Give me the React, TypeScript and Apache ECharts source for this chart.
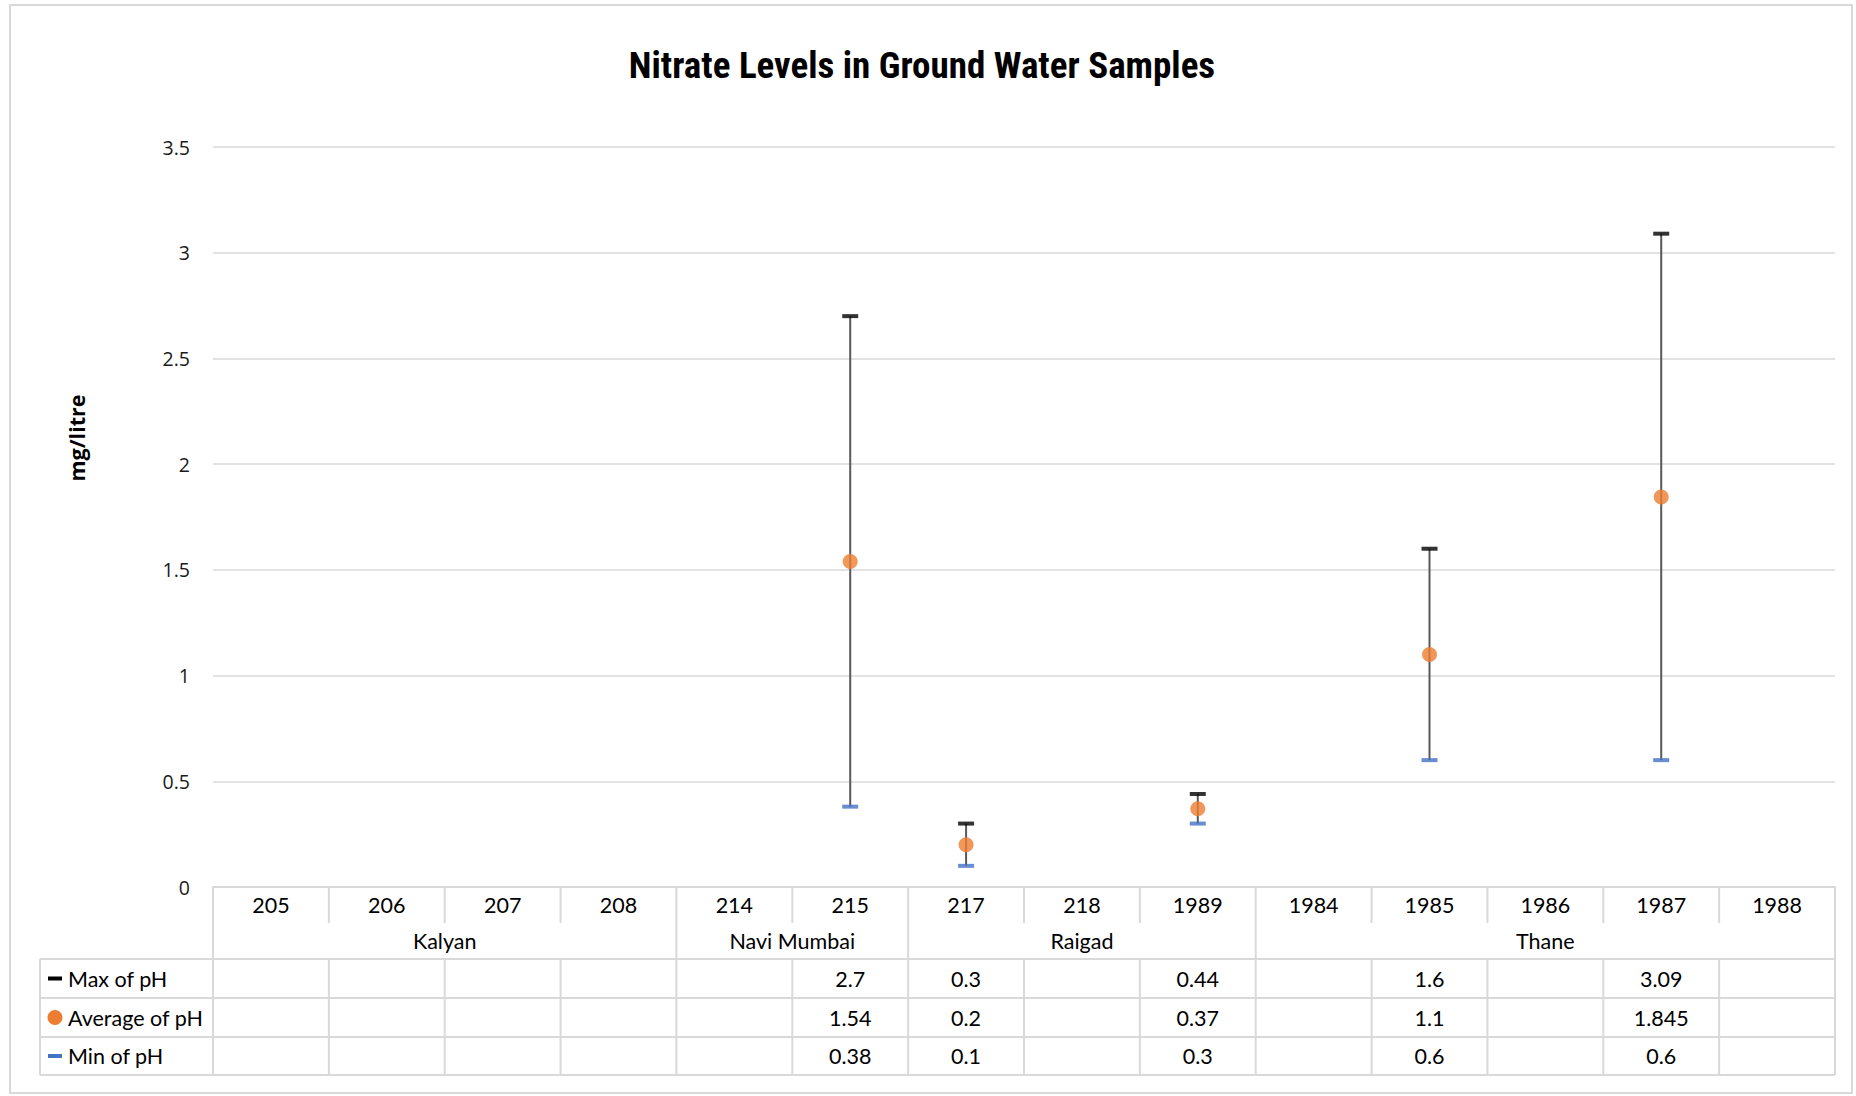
import React, { useEffect, useRef } from "react";
import * as echarts from "echarts";

const categories = ["205", "206", "207", "208", "214", "215", "217", "218", "1989", "1984", "1985", "1986", "1987", "1988"];
const groups = [
  { name: "Kalyan", span: 4 },
  { name: "Navi Mumbai", span: 2 },
  { name: "Raigad", span: 3 },
  { name: "Thane", span: 5 },
];
const maxPH: (number | null)[] = [null, null, null, null, null, 2.7, 0.3, null, 0.44, null, 1.6, null, 3.09, null];
const avgPH: (number | null)[] = [null, null, null, null, null, 1.54, 0.2, null, 0.37, null, 1.1, null, 1.845, null];
const minPH: (number | null)[] = [null, null, null, null, null, 0.38, 0.1, null, 0.3, null, 0.6, null, 0.6, null];
const yTicks = { min: 0, max: 3.5, interval: 0.5 };

const TITLE = "Nitrate Levels in Ground Water Samples";
const Y_NAME = "mg/litre";
const SERIES_NAMES = ["Max of pH", "Average of pH", "Min of pH"];

const W = 1856;
const H = 1096;
const GL = 213;
const GR = 1835;
const GT = 147;
const GB = 887;
const TABLE_LEFT = 40;
const ROW1 = 923;
const ROW2 = 959;
const ROWS = [959, 998, 1037, 1075];
const LINE = "#d9d9d9";
const TFONT = "Lato, 'Noto Sans', sans-serif";
const TSIZE = 21.5;

export default function App() {
  const ref = useRef<HTMLDivElement>(null);
  useEffect(() => {
    if (!ref.current) return;
    const chart = echarts.init(ref.current, undefined, { renderer: "svg" });
    const n = categories.length;
    const cw = (GR - GL) / n;
    const graphics: any[] = [];
    const hline = (x1: number, x2: number, y: number) =>
      graphics.push({ type: "line", shape: { x1, y1: y, x2, y2: y }, style: { stroke: LINE, lineWidth: 2 }, z: 10 });
    const vline = (x: number, y1: number, y2: number) =>
      graphics.push({ type: "line", shape: { x1: x, y1, x2: x, y2 }, style: { stroke: LINE, lineWidth: 2 }, z: 10 });

    // outer border
    graphics.push({ type: "rect", shape: { x: 10, y: 5, width: W - 14, height: H - 8 }, style: { fill: "none", stroke: LINE, lineWidth: 2 }, z: 0 });

    // table horizontal lines
    ROWS.forEach((y) => hline(TABLE_LEFT, GR, y));
    vline(TABLE_LEFT, ROW2, ROWS[3]);
    // group boundaries
    const groupBounds = new Set<number>([0, n]);
    let acc = 0;
    groups.forEach((g) => {
      acc += g.span;
      groupBounds.add(acc);
    });
    for (let i = 0; i <= n; i++) {
      const x = GL + i * cw;
      if (groupBounds.has(i)) vline(x, GB, ROWS[3]);
      else {
        vline(x, GB, ROW1);
        vline(x, ROW2, ROWS[3]);
      }
    }
    // group labels
    acc = 0;
    groups.forEach((g) => {
      const cx = GL + (acc + g.span / 2) * cw;
      acc += g.span;
      graphics.push({
        type: "text",
        x: cx,
        y: (ROW1 + ROW2) / 2,
        style: { text: g.name, fontSize: TSIZE, fontFamily: TFONT, fill: "#000", align: "center", verticalAlign: "middle" },
        z: 11,
      });
    });
    // series rows
    const rowData = [maxPH, avgPH, minPH];
    rowData.forEach((arr, r) => {
      const cy = (ROWS[r] + ROWS[r + 1]) / 2;
      arr.forEach((v, i) => {
        if (v == null) return;
        graphics.push({
          type: "text",
          x: GL + (i + 0.5) * cw,
          y: cy,
          style: { text: String(v), fontSize: TSIZE, fontFamily: TFONT, fill: "#000", align: "center", verticalAlign: "middle" },
          z: 11,
        });
      });
      // legend key
      if (r === 1) {
        graphics.push({ type: "circle", shape: { cx: 55, cy, r: 7.5 }, style: { fill: "#ed7d31" }, z: 11 });
      } else {
        graphics.push({
          type: "rect",
          shape: { x: 48, y: cy - 2, width: 14, height: 4 },
          style: { fill: r === 0 ? "#000000" : "#4472c4" },
          z: 11,
        });
      }
      graphics.push({
        type: "text",
        x: 68,
        y: cy,
        style: { text: SERIES_NAMES[r], fontSize: TSIZE, fontFamily: TFONT, fill: "#000", align: "left", verticalAlign: "middle" },
        z: 11,
      });
    });
    // title
    graphics.push({
      type: "text",
      x: 922,
      y: 65,
      style: {
        text: TITLE,
        fontSize: 37,
        fontWeight: "bold",
        fontFamily: "'Liberation Sans Narrow', 'Roboto Condensed', 'Liberation Sans', sans-serif",
        fill: "#000",
        align: "center",
        verticalAlign: "middle",
      },
      z: 11,
    });
    // y axis name
    graphics.push({
      type: "text",
      x: 76,
      y: 438,
      rotation: Math.PI / 2,
      style: {
        text: Y_NAME,
        fontSize: 21.5,
        fontWeight: "bold",
        fontFamily: "'Open Sans', 'Noto Sans', sans-serif",
        fill: "#000",
        align: "center",
        verticalAlign: "middle",
      },
      z: 11,
    });

    const toPts = (arr: (number | null)[]) =>
      arr.map((v, i) => (v == null ? null : [i, v])).filter((d) => d != null) as number[][];
    const rangeData = minPH
      .map((v, i) => (v == null || maxPH[i] == null ? null : [i, v, maxPH[i] as number]))
      .filter((d) => d != null) as number[][];

    chart.setOption({
      animation: false,
      backgroundColor: "#ffffff",
      grid: { left: GL, right: W - GR, top: GT, bottom: H - GB, containLabel: false },
      xAxis: {
        type: "category",
        data: categories,
        boundaryGap: true,
        axisLine: { show: true, lineStyle: { color: LINE, width: 2 } },
        axisTick: { show: false },
        axisLabel: { interval: 0, fontSize: TSIZE, fontFamily: TFONT, color: "#000", margin: 7 },
      },
      yAxis: {
        type: "value",
        min: yTicks.min,
        max: yTicks.max,
        interval: yTicks.interval,
        axisLine: { show: false },
        axisTick: { show: false },
        splitLine: { lineStyle: { color: LINE, width: 1.5 } },
        axisLabel: { fontSize: 19.5, fontFamily: "'Open Sans', 'Noto Sans', sans-serif", color: "#1a1a1a", margin: 23 },
      },
      series: [
        {
          type: "custom",
          name: "High-Low",
          data: rangeData,
          encode: { x: 0, y: [1, 2] },
          z: 1,
          renderItem: (params: any, api: any) => {
            const i = api.value(0);
            const lo = api.coord([i, api.value(1)]);
            const hi = api.coord([i, api.value(2)]);
            return {
              type: "line",
              shape: { x1: lo[0], y1: lo[1], x2: hi[0], y2: hi[1] },
              style: { stroke: "#595959", lineWidth: 2 },
            };
          },
        },
        {
          type: "scatter",
          name: SERIES_NAMES[0],
          data: toPts(maxPH),
          symbol: "rect",
          symbolSize: [16, 4],
          itemStyle: { color: "#000000" },
          z: 3,
        },
        {
          type: "scatter",
          name: SERIES_NAMES[1],
          data: toPts(avgPH),
          symbol: "circle",
          symbolSize: 15,
          itemStyle: { color: "#ed7d31" },
          z: 3,
        },
        {
          type: "scatter",
          name: SERIES_NAMES[2],
          data: toPts(minPH),
          symbol: "rect",
          symbolSize: [16, 4],
          itemStyle: { color: "#4472c4" },
          z: 3,
        },
      ],
      graphic: graphics,
    });
    return () => chart.dispose();
  }, []);
  return <div ref={ref} style={{ position: "fixed", left: 0, top: 0, width: W, height: H, background: "#fff" }} />;
}
